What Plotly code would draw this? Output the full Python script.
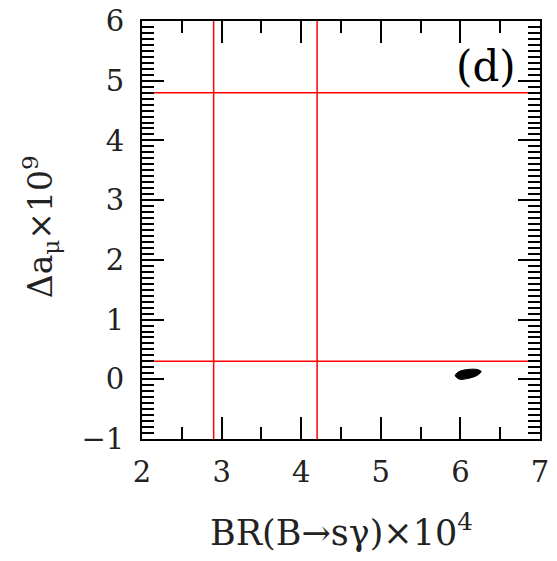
import plotly.graph_objects as go

# Data
br_limits = [2.9, 4.2]          # BR(B->s gamma) x 10^4 bounds (vertical lines)
amu_limits = [0.3, 4.8]         # Delta a_mu x 10^9 bounds (horizontal lines)
blob_br = [5.935, 5.985, 6.11, 6.21, 6.26, 6.21, 6.085, 5.985, 5.935]
blob_amu = [0.065, 0.13, 0.166, 0.163, 0.13, 0.065, 0.012, 0.003, 0.065]
x_range = [2, 7]
y_range = [-1, 6]
x_ticks = [2, 3, 4, 5, 6, 7]
y_ticks = [-1, 0, 1, 2, 3, 4, 5, 6]
y_ticktext = ["−1", "0", "1", "2", "3", "4", "5", "6"]

FONT = "DejaVu Serif"

fig = go.Figure()
fig.add_trace(go.Scatter(x=blob_br, y=blob_amu, mode="lines", fill="toself",
                         fillcolor="black", line=dict(color="black", width=1, shape="spline"),
                         hoverinfo="skip", showlegend=False))

for xv in br_limits:
    fig.add_trace(go.Scatter(x=[xv, xv], y=y_range, mode="lines",
                             line=dict(color="#ff0000", width=1.5), showlegend=False))
for yv in amu_limits:
    fig.add_trace(go.Scatter(x=x_range, y=[yv, yv], mode="lines",
                             line=dict(color="#ff0000", width=1.5), showlegend=False))

fig.add_annotation(x=6.32, y=5.23, text="(d)", showarrow=False,
                   font=dict(family=FONT, size=42, color="black"))

# Axis titles
fig.add_annotation(xref="paper", yref="paper", x=0.5, y=-0.218, text="BR(B→sγ)×10<sup>4</sup>",
                   showarrow=False, xanchor="center", yanchor="middle",
                   font=dict(family=FONT, size=35, color="#222"))
fig.add_annotation(xref="paper", yref="paper", x=-0.256, y=0.507, text="Δa<sub>μ</sub>×10<sup>9</sup>",
                   showarrow=False, xanchor="center", yanchor="middle", textangle=-90,
                   font=dict(family=FONT, size=33, color="#222"))

axis_common = dict(showgrid=False, zeroline=False, showline=True, linecolor="black",
                   linewidth=2, mirror="allticks", ticks="inside", tickcolor="black",
                   tickwidth=2, ticklen=22, automargin=False, ticklabeloverflow="allow",
                   tickfont=dict(family=FONT, size=29, color="#222"))

fig.update_xaxes(range=x_range, tickvals=x_ticks,
                 minor=dict(dtick=0.5, tick0=2, ticklen=12, tickwidth=2, tickcolor="black", ticks="inside", showgrid=False),
                 ticklabelstandoff=6,
                 **axis_common)
fig.update_yaxes(range=y_range, tickvals=y_ticks, ticktext=y_ticktext,
                 minor=dict(dtick=0.1, tick0=0, ticklen=12, tickwidth=2, tickcolor="black", ticks="inside", showgrid=False),
                 ticklabelstandoff=10,
                 **axis_common)

# page body has an 8px default margin, so shrink the figure to keep the plot area in place
fig.update_layout(width=549, height=553, margin=dict(l=134, r=17, t=13, b=122),
                  plot_bgcolor="white", paper_bgcolor="white", showlegend=False)

fig.write_html("out.html")
